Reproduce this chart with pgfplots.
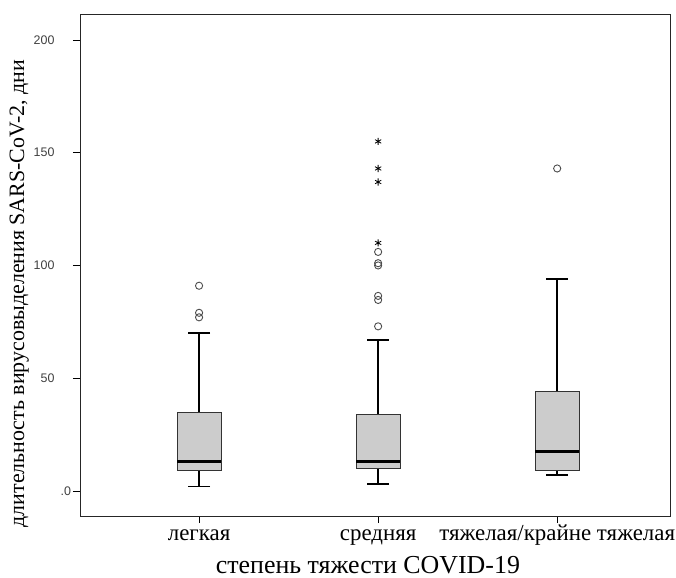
\documentclass[border=0pt]{standalone}
\usepackage{fontspec}
\setmainfont{Liberation Serif}
\newfontfamily\sansf{Liberation Sans}
\usepackage{pgfplots}
\pgfplotsset{compat=1.18}
\usepgfplotslibrary{statistics}

\begin{document}
\begin{tikzpicture}
\begin{axis}[
  scale only axis, width=590bp, height=502bp,
  xmin=-0.665, xmax=2.63, ymin=-11.1, ymax=211.5,
  axis line style={line width=0.8pt, black!85},
  xtick={0,1,2}, xticklabels={легкая, средняя, тяжелая/крайне тяжелая},
  ytick={0,50,100,150,200}, yticklabels={.0\kern-17bp,50,100,150,200},
  tick align=outside, xtick pos=bottom, ytick pos=left,
  major tick length=7bp,
  tick style={black, line width=0.8pt},
  xticklabel style={font=\fontsize{23}{25}\selectfont, anchor=base, yshift=-17bp},
  yticklabel style={font=\sansf\fontsize{12.5}{14}\selectfont, black!75, xshift=-15bp},
  xlabel={степень тяжести COVID-19},
  xlabel style={font=\fontsize{26}{28}\selectfont, at={(axis description cs:0.488,-0.114)}, anchor=base},
  ylabel={длительность вирусовыделения SARS-CoV-2, дни},
  ylabel style={font=\fontsize{22}{24}\selectfont, at={(axis description cs:-0.0949,0.443)}, anchor=base},
  boxplot/draw direction=y,
  boxplot/box extend=0.246,
  boxplot/whisker extend=0.123,
  boxplot/every whisker/.style={black, line width=1.6pt},
  boxplot/every median/.style={black, line width=3pt},
]
% легкая
\addplot[draw=black!80, fill=black!20, line width=1pt, boxplot prepared={
  draw position=0, lower whisker=2, lower quartile=9, median=13,
  upper quartile=35, upper whisker=70}] coordinates {};
% средняя
\addplot[draw=black!80, fill=black!20, line width=1pt, boxplot prepared={
  draw position=1, lower whisker=3, lower quartile=10, median=13,
  upper quartile=34, upper whisker=67}] coordinates {};
% тяжелая/крайне тяжелая
\addplot[draw=black!80, fill=black!20, line width=1pt, boxplot prepared={
  draw position=2, lower whisker=7, lower quartile=9, median=17.5,
  upper quartile=44, upper whisker=94}] coordinates {};
% outliers
\addplot[only marks, mark=o, mark size=3.6pt, black!70, line width=0.9pt]
  coordinates {(0,91)(0,79)(0,77)(1,106)(1,101)(1,100)(1,86.5)(1,84.7)(1,73)(2,143)};
% extreme values
\addplot[only marks, mark=asterisk, mark size=3.6pt, black, line width=0.8pt]
  coordinates {(1,155)(1,143)(1,137)(1,110)};
\end{axis}
\pgfresetboundingbox
\path[use as bounding box] ([xshift=-80bp,yshift=-62bp]current axis.south west)
  rectangle ([xshift=6bp,yshift=14bp]current axis.north east);
\end{tikzpicture}
\end{document}
